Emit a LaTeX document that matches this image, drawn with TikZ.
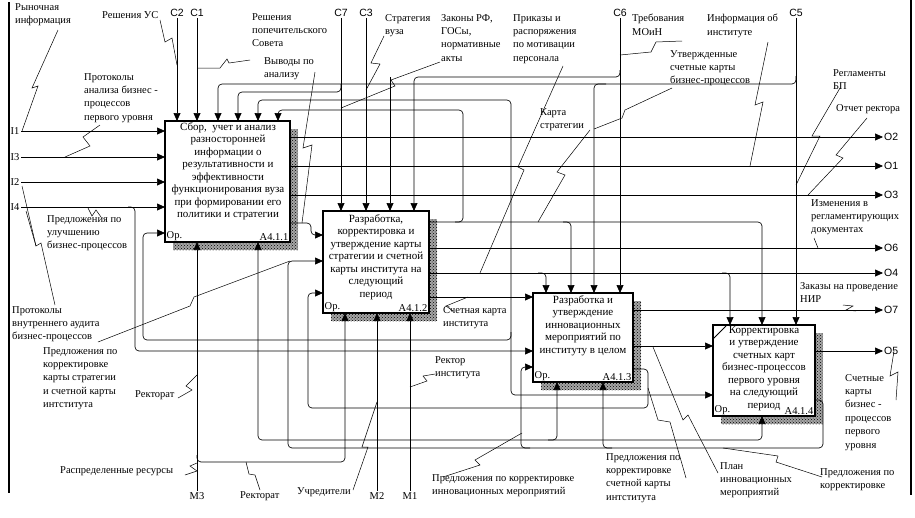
\documentclass[tikz,border=0pt]{standalone}
\usepackage{fontspec}
\setmainfont{Liberation Serif}
\setsansfont{Liberation Sans}
\usetikzlibrary{arrows.meta,patterns}
\newcommand\lfont{\fontsize{10.5}{13.4}\selectfont}
\newcommand\bxfont{\fontsize{11}{12.5}\selectfont}

\begin{document}
\begin{tikzpicture}[x=1pt, y=-1pt, >={Triangle[length=8pt,width=7pt]},
  fn/.style={draw, line width=2pt, fill=white, anchor=north west, inner sep=0pt, outer sep=0pt},
  shd/.style={preaction={fill=black!35}, pattern=crosshatch dots, pattern color=black},
  flow/.style={->, line width=0.65pt, rounded corners=4pt},
  lead/.style={line width=0.5pt},
  lbl/.style={font=\lfont, align=left, anchor=north west, inner sep=0pt},
  code/.style={font=\sffamily\lfont, inner sep=1pt},
  btxt/.style={font=\bxfont, align=center, anchor=north, inner sep=0pt},
  tag/.style={font=\lfont, inner sep=1.5pt}]
\useasboundingbox (0,0) rectangle (915,517);
% frame
\draw[line width=1.3pt] (9,2) -- (9,493);
\draw[line width=1.3pt] (911,0) -- (911,495);

% shadows and boxes
\fill[shd] (173,129) rectangle (298,250);
\fill[shd] (331,219) rectangle (437,321);
\fill[shd] (541,301) rectangle (641,390);
\fill[shd] (721,333) rectangle (823,424);
\node[fn, minimum width=125pt, minimum height=121pt] (b1) at (165,121) {};
\node[fn, minimum width=106pt, minimum height=102pt] (b2) at (323,211) {};
\node[fn, minimum width=100pt, minimum height=89pt] (b3) at (533,293) {};
\node[fn, minimum width=102pt, minimum height=91pt] (b4) at (713,325) {};
\draw[line width=0.8pt] (713,339) -- (726,326);

\node[btxt] (b1t) at (228,122) {Сбор,\ \ учет и анализ\\разносторонней\\информации о\\результативности и\\эффективности\\функционирования вуза\\при формировании его\\политики и стратегии};
\node[btxt] (b2t) at (376,214) {Разработка,\\корректировка и\\утверждение карты\\стратегии и счетной\\карты института на\\следующий\\период};
\node[btxt] (b3t) at (583,295) {Разработка и\\утверждение\\инновационных\\мероприятий по\\институту в целом};
\node[btxt] (b4t) at (764,326) {Корректировка\\и утверждение\\счетных карт\\бизнес-процессов\\первого уровня\\на следующий\\период};
\foreach \b/\n in {b1/A4.1.1, b2/A4.1.2, b3/A4.1.3, b4/A4.1.4} {
  \node[tag, anchor=south west] (\b o) at (\b.south west) {Ор.};
  \node[tag, anchor=south east] (\b n) at (\b.south east) {\n};
}

% ICOM codes
\node[code] (c2) at (177,13) {C2};
\node[code] (c1) at (197,13) {C1};
\node[code] (c7) at (341,13) {C7};
\node[code] (c3) at (366,13) {C3};
\node[code] (c6) at (620,13) {C6};
\node[code] (c5) at (796,13) {C5};
\node[tag, anchor=west] (i1) at (9,131) {I1};
\node[tag, anchor=west] (i3) at (9,157) {I3};
\node[tag, anchor=west] (i2) at (9,182) {I2};
\node[tag, anchor=west] (i4) at (9,207) {I4};
\node[code, anchor=west] (o2) at (883,137) {O2};
\node[code, anchor=west] (o1) at (883,166) {O1};
\node[code, anchor=west] (o3) at (883,195) {O3};
\node[code, anchor=west] (o6) at (883,248) {O6};
\node[code, anchor=west] (o4) at (883,273) {O4};
\node[code, anchor=west] (o7) at (883,310) {O7};
\node[code, anchor=west] (o5) at (883,351) {O5};
\node[tag, anchor=north] (m3) at (197,491) {M3};
\node[tag, anchor=north] (m2) at (377,491) {M2};
\node[tag, anchor=north] (m1) at (410,491) {M1};

% controls
\draw[flow] (c2.south) -- (c2.south |- b1.north);
\draw[flow] (c1.south) -- (c1.south |- b1.north);
\draw[flow] (c7.south) -- (c7.south |- b2.north);
\draw[flow] (341,84) -- (341,92) -- (238,92) -- (238,0 |- b1.north);
\draw[flow] (c3.south) -- (c3.south |- b2.north);
\draw[flow] (c6.south) -- (c6.south |- b3.north);
\draw[flow] (620,70) -- (620,77) -- (414,77) -- (414,0 |- b2.north);
\draw[flow] (390,77) -- (390,0 |- b2.north);
\draw[flow] (c5.south) -- (c5.south |- b4.north);
\draw[flow] (796,76) -- (796,84) -- (218,84) -- (218,0 |- b1.north);
\draw[flow] (606,84) -- (594,84) -- (594,0 |- b3.north);

% inputs
\draw[flow] (i1.east) -- (i1.east -| b1.west);
\draw[flow] (i3.east) -- (i3.east -| b1.west);
\draw[flow] (i2.east) -- (i2.east -| b1.west);
\draw[flow] (i4.east) -- (i4.east -| b1.west);
\draw[flow] (128,207) -- (135,207) -- (135,351) -- (b3.west |- 0,351);

% outputs of A4.1.1
\draw[flow] (b1.east |- o2) -- (o2.west);
\draw[flow] (b1.east |- o1) -- (o1.west);
\draw[flow] (b1.east |- o3) -- (o3.west);
\draw[flow] (b1.east |- 0,223) -- (311,223) -- (311,235) -- (b2.west |- 0,235);

% outputs of A4.1.2
\draw[flow] (b2.east |- 0,222) -- (762,222) -- (762,0 |- b4.north);
\draw[flow] (455,222) -- (463,222) -- (463,110) -- (278,110) -- (278,0 |- b1.north);
\draw[flow] (563,222) -- (571,222) -- (571,0 |- b3.north);
\draw[flow] (b2.east |- o6) -- (o6.west);
\draw[flow] (b2.east |- o4) -- (o4.west);
\draw[flow] (538,273) -- (546,273) -- (546,0 |- b3.north);
\draw[flow] (722,273) -- (730,273) -- (730,0 |- b4.north);
\draw[flow] (b2.east |- 0,297) -- (b3.west |- 0,297);
\draw[flow] (511,297) -- (511,100) -- (258,100) -- (258,0 |- b1.north);
\draw[flow] (511,297) -- (511,395) -- (b4.west |- 0,395);
\draw[flow] (511,332) -- (511,340) -- (143,340) -- (143,233) -- (b1.west |- 0,233);

% outputs of A4.1.3
\draw[flow] (b3.east |- o7) -- (o7.west);
\draw[flow] (b3.east |- 0,346) -- (b4.west |- 0,346);
\draw[flow] (b3.east |- 0,369) -- (648,369) -- (648,408) -- (308,408) -- (308,293) -- (b2.west |- 0,293);

% outputs of A4.1.4
\draw[flow] (b4.east |- o5) -- (o5.west);
\draw[flow] (b4.east |- 0,400) -- (823,400) -- (823,448) -- (288,448) -- (288,261) -- (b2.west |- 0,261);
\draw[flow] (530,448) -- (521,448) -- (521,367) -- (b3.west |- 0,367);
\draw[flow] (612,448) -- (603,448) -- (603,0 |- b3.south);

% mechanisms
\draw[flow] (m3.north) -- (m3.north |- b1.south);
\draw[flow] (197,455) -- (197,462) -- (345,462) -- (345,0 |- b2.south);
\draw[flow] (m2.north) -- (m2.north |- b2.south);
\draw[flow] (m1.north) -- (m1.north |- b2.south);
\draw[flow] (410,440) -- (258,440) -- (258,0 |- b1.south);
\draw[flow] (410,440) -- (762,440) -- (762,0 |- b4.south);
\draw[flow] (548,440) -- (557,440) -- (557,0 |- b3.south);

% labels
\node[lbl] (lRyn) at (15,3) {Рыночная\\информация};
\node[lbl] (lUS) at (102,11) {Решения УС};
\node[lbl] (lPop) at (252,13) {Решения\\попечительского\\Совета};
\node[lbl] (lVyv) at (264,57) {Выводы по\\анализу};
\node[lbl] (lStr) at (385,14) {Стратегия\\вуза};
\node[lbl] (lZak) at (441,14) {Законы РФ,\\ГОСы,\\нормативные\\акты};
\node[lbl] (lPri) at (513,14) {Приказы и\\распоряжения\\по мотивации\\персонала};
\node[lbl] (lTre) at (632,14) {Требования\\МОиН};
\node[lbl] (lUtv) at (670,50) {Утвержденные\\счетные карты\\бизнес-процессов};
\node[lbl] (lInf) at (707,14) {Информация об\\институте};
\node[lbl] (lReg) at (833,69) {Регламенты\\БП};
\node[lbl] (lOtch) at (836,104) {Отчет ректора};
\node[lbl] (lPan) at (84,73) {Протоколы\\анализа бизнес -\\процессов\\первого уровня};
\node[lbl] (lKar) at (540,108) {Карта\\стратегии};
\node[lbl] (lIzm) at (811,199) {Изменения в\\регламентирующих\\документах};
\node[lbl] (lZkz) at (800,282) {Заказы на проведение\\НИР};
\node[lbl] (lSch) at (845,374) {Счетные\\карты\\бизнес -\\процессов\\первого\\уровня};
\node[lbl] (lUlu) at (47,215) {Предложения по\\улучшению\\бизнес-процессов};
\node[lbl] (lAud) at (12,306) {Протоколы\\внутреннего аудита\\бизнес-процессов};
\node[lbl] (lKks) at (43,347) {Предложения по\\корректировке\\карты стратегии\\и счетной карты\\интститута};
\node[lbl] (lRek1) at (135,390) {Ректорат};
\node[lbl] (lRes) at (60,466) {Распределенные ресурсы};
\node[lbl] (lRek2) at (240,491) {Ректорат};
\node[lbl] (lUch) at (297,487) {Учредители};
\node[lbl] (lRin) at (435,356) {Ректор\\института};
\node[lbl] (lSki) at (443,306) {Счетная карта\\института};
\node[lbl] (lKim) at (432,474) {Предложения по корректировке\\инновационных мероприятий};
\node[lbl] (lKsk) at (606,453) {Предложения по\\корректировке\\счетной карты\\интститута};
\node[lbl] (lPlan) at (720,462) {План\\инновационных\\мероприятий};
\node[lbl] (lKor) at (820,468) {Предложения по\\корректировке};

% leaders
\draw[lead] (58,30) -- (32,88) -- (38,86) -- (22,131);
\draw[lead] (160,20) -- (165,42) -- (172,38) -- (177,65);
\draw[lead] (197,68) -- (220,68) -- (227,59) -- (229,63) -- (250,60);
\draw[lead] (315,72) -- (303,148) -- (312,145) -- (302,223);
\draw[lead] (384,36) -- (371,63) -- (380,64) -- (366,90);
\draw[lead] (440,62) -- (391,80) -- (395,86) -- (341,108);
\draw[lead] (563,66) -- (518,167) -- (524,170) -- (480,273);
\draw[lead] (682,41) -- (656,42) -- (651,52) -- (620,55);
\draw[lead] (672,88) -- (625,110) -- (622,118) -- (594,129);
\draw[lead] (768,42) -- (755,105) -- (763,102) -- (750,166);
\draw[lead] (840,88) -- (812,136) -- (820,136) -- (796,185);
\draw[lead] (867,118) -- (836,155) -- (843,158) -- (808,195);
\draw[lead] (814,238) -- (818,248);
\draw[lead] (843,305) -- (853,306) -- (846,310) -- (856,311);
\draw[lead] (896,400) -- (898,372) -- (890,376) -- (894,351);
\draw[lead] (100,125) -- (83,137) -- (90,146) -- (65,157);
\draw[lead] (590,130) -- (557,172) -- (565,175) -- (538,222);
\draw[lead] (88,208) -- (92,216) -- (96,210) -- (101,217);
\draw[lead] (22,186) -- (36,246) -- (41,243) -- (55,305);
\draw[lead] (26,211) -- (36,246);
\draw[lead] (98,342) -- (190,306) -- (194,297) -- (290,261);
\draw[lead] (178,398) -- (192,390) -- (186,386) -- (197,375);
\draw[lead] (185,475) -- (197,471) -- (190,466) -- (197,463);
\draw[lead] (260,490) -- (255,475) -- (249,474) -- (246,462);
\draw[lead] (353,490) -- (368,447) -- (362,447) -- (377,402);
\draw[lead] (435,374) -- (423,376) -- (427,381) -- (410,387);
\draw[lead] (468,297) -- (446,306) -- (453,311);
\draw[lead] (443,477) -- (480,465) -- (475,460) -- (522,433);
\draw[lead] (686,478) -- (670,422) -- (658,420) -- (648,388);
\draw[lead] (718,473) -- (688,415) -- (683,420) -- (653,347);
\draw[lead] (822,477) -- (776,462) -- (778,456) -- (723,448);
\end{tikzpicture}
\end{document}
